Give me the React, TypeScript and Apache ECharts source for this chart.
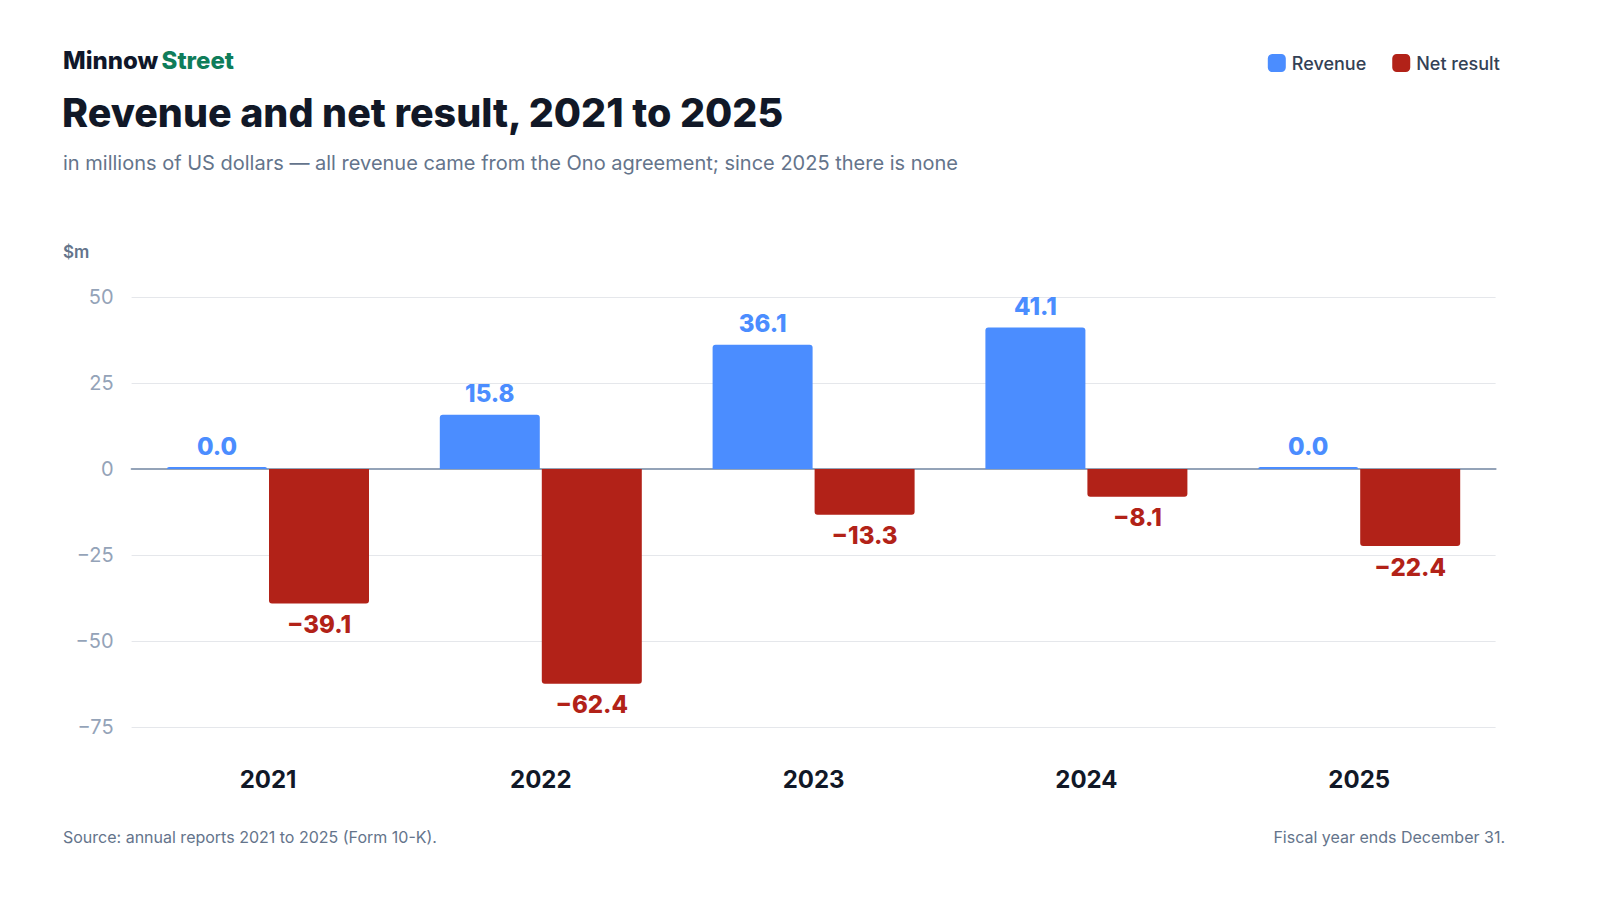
import React, { useEffect, useRef } from "react";
import * as echarts from "echarts";

const years = ["2021", "2022", "2023", "2024", "2025"];
const revenue = [0.0, 15.8, 36.1, 41.1, 0.0];
const netResult = [-39.1, -62.4, -13.3, -8.1, -22.4];
const yTicks = { min: -75, max: 50, interval: 25 };

const BLUE = "#4B8DFF";
const RED = "#B22218";
const FONT = "Inter, 'Noto Sans', sans-serif";

const fmtMinus = (v: number) => (v < 0 ? "\u2212" + Math.abs(v).toFixed(1) : v.toFixed(1));

function toItems(values: number[], color: string) {
  return values.map((v) => ({
    value: v,
    itemStyle: { color, borderRadius: v < 0 ? [0, 0, 3, 3] : [3, 3, 0, 0] },
    label: { position: v < 0 ? "bottom" : "top" },
  }));
}

export default function App() {
  const ref = useRef<HTMLDivElement>(null);
  useEffect(() => {
    document.body.style.margin = "0";
    const chart = echarts.init(ref.current!, null, { renderer: "svg" });
    const labelCommon = {
      show: true,
      distance: 9,
      fontFamily: FONT,
      fontSize: 24,
      fontWeight: 800,
      formatter: (p: any) => fmtMinus(p.value),
    };
    chart.setOption({
      animation: false,
      backgroundColor: "#ffffff",
      textStyle: { fontFamily: FONT },
      grid: { left: 131.6, right: 104.4, top: 297, bottom: 173, containLabel: false },
      legend: {
        right: 95,
        top: 49,
        icon: "roundRect",
        itemWidth: 18,
        itemHeight: 18,
        itemGap: 26,
        textStyle: { fontFamily: FONT, fontSize: 18, fontWeight: 500, color: "#334155", padding: [0, 0, 0, 1] },
        data: ["Revenue", "Net result"],
      },
      xAxis: {
        type: "category",
        data: years,
        axisLine: { onZero: true, lineStyle: { color: "#94A3B8", width: 2 } },
        axisTick: { show: false },
        axisLabel: {
          show: true,
          margin: 40,
          fontFamily: FONT,
          fontSize: 24,
          fontWeight: 700,
          color: "#111827",
        },
      },
      yAxis: {
        type: "value",
        min: yTicks.min,
        max: yTicks.max,
        interval: yTicks.interval,
        axisLine: { show: false },
        axisTick: { show: false },
        splitLine: { lineStyle: { color: "#E5E7EB", width: 1 } },
        axisLabel: {
          margin: 18,
          fontFamily: FONT,
          fontSize: 20,
          color: "#94A3B8",
          formatter: (v: number) => (v < 0 ? "\u2212" + Math.abs(v) : String(v)),
        },
      },
      series: [
        {
          name: "Revenue",
          type: "bar",
          barWidth: 100,
          barGap: "2%",
          barMinHeight: 2,
          itemStyle: { color: BLUE },
          label: { ...labelCommon, color: BLUE },
          data: toItems(revenue, BLUE),
        },
        {
          name: "Net result",
          type: "bar",
          barWidth: 100,
          barGap: "2%",
          itemStyle: { color: RED },
          label: { ...labelCommon, color: RED },
          data: toItems(netResult, RED),
        },
      ],
      graphic: [
        {
          type: "text",
          left: 63,
          top: 48,
          style: {
            text: "{a|Minnow} {b|Street}",
            rich: {
              a: { fontFamily: FONT, fontSize: 24, fontWeight: 800, fill: "#0F172A" },
              b: { fontFamily: FONT, fontSize: 24, fontWeight: 800, fill: "#0F7D5A" },
            },
          },
        },
        {
          type: "text",
          left: 62,
          top: 93,
          style: {
            text: "Revenue and net result, 2021 to 2025",
            fontFamily: FONT,
            fontSize: 39.4,
            fontWeight: 800,
            fill: "#111827",
          },
        },
        {
          type: "text",
          left: 63,
          top: 153,
          style: {
            text: "in millions of US dollars \u2014 all revenue came from the Ono agreement; since 2025 there is none",
            fontFamily: FONT,
            fontSize: 20,
            fill: "#64748B",
          },
        },
        {
          type: "text",
          left: 63,
          top: 243,
          style: { text: "$m", fontFamily: FONT, fontSize: 17, fontWeight: 600, fill: "#64748B" },
        },
        {
          type: "text",
          left: 63,
          top: 829,
          style: {
            text: "Source: annual reports 2021 to 2025 (Form 10-K).",
            fontFamily: FONT,
            fontSize: 16,
            fill: "#64748B",
          },
        },
        {
          type: "text",
          right: 95,
          top: 829,
          style: {
            text: "Fiscal year ends December 31.",
            fontFamily: FONT,
            fontSize: 16,
            fill: "#64748B",
          },
        },
      ],
    });
    return () => chart.dispose();
  }, []);
  return (
    <div
      ref={ref}
      style={{ position: "fixed", left: 0, top: 0, width: 1600, height: 900 }}
    />
  );
}
